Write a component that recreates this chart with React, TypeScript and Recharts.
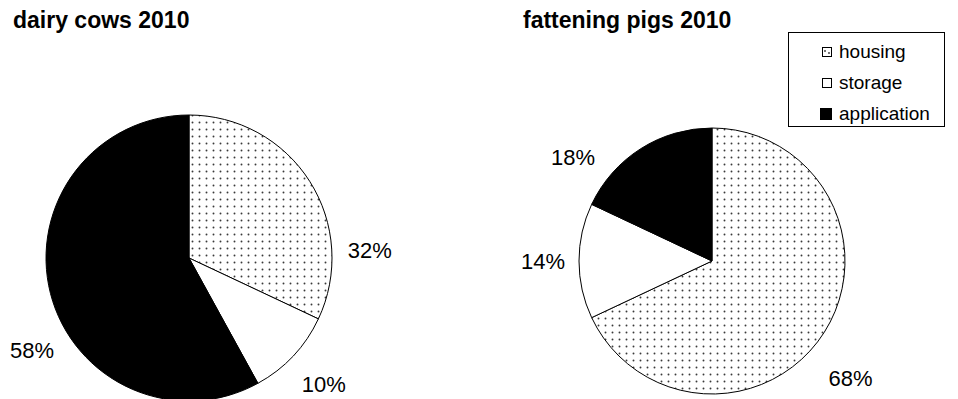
import { PieChart, Pie, Cell, Legend } from "recharts";

const categories = ["housing", "storage", "application"];
const dairyValues = [32, 10, 58];
const pigValues = [68, 14, 18];
const titles = ["dairy cows 2010", "fattening pigs 2010"];

const FONT = '"Liberation Sans", Arial, sans-serif';
const fills = ["url(#dots)", "#ffffff", "#000000"];

// label placement around each pie: angle nudge (deg) and distance past the rim
const dairyLabelPos = [
  { shift: -30, gap: 38 },
  { shift: 0, gap: 42 },
  { shift: 16, gap: 39 },
];
const pigLabelPos = [
  { shift: -8, gap: 49 },
  { shift: 0, gap: 36 },
  { shift: 21, gap: 40 },
];

const RAD = Math.PI / 180;

function makeLabel(pos: { shift: number; gap: number }[]) {
  return (p: any) => {
    const a = (p.midAngle + pos[p.index].shift) * RAD;
    const r = p.outerRadius + pos[p.index].gap;
    const x = p.cx + r * Math.cos(a);
    const y = p.cy - r * Math.sin(a);
    return (
      <text x={x} y={y} textAnchor="middle" dominantBaseline="central" fontFamily={FONT} fontSize={22} fill="#000">
        {p.value}%
      </text>
    );
  };
}

function LegendBox() {
  const marker = (i: number) => {
    const s = i === 2 ? 12 : 10;
    return (
      <svg width={s} height={s} style={{ display: "block" }}>
        <rect x={0.5} y={0.5} width={s - 1} height={s - 1} fill={i === 2 ? "#000" : "#fff"} stroke="#000" strokeWidth={1} />
        {i === 0 && <circle cx={3} cy={4} r={0.9} fill="#333" />}
        {i === 0 && <circle cx={7} cy={6} r={0.9} fill="#333" />}
      </svg>
    );
  };
  return (
    <div style={{ boxSizing: "border-box", width: 157, height: 95, border: "1px solid #000", background: "#fff", paddingTop: 3 }}>
      {categories.map((c, i) => (
        <div key={c} style={{ display: "flex", alignItems: "center", height: 31, fontFamily: FONT, fontSize: 19, color: "#000" }}>
          <div style={{ width: 43, display: "flex", justifyContent: "flex-end", boxSizing: "border-box" }}>{marker(i)}</div>
          <span style={{ marginLeft: 7 }}>{c}</span>
        </div>
      ))}
    </div>
  );
}

export default function App() {
  const dairy = categories.map((name, i) => ({ name, value: dairyValues[i] }));
  const pigs = categories.map((name, i) => ({ name, value: pigValues[i] }));
  return (
    <div style={{ position: "absolute", left: 0, top: 0, width: 958, height: 399, background: "#fff", overflow: "hidden" }}>
      <PieChart width={958} height={399} margin={{ top: 0, right: 0, bottom: 0, left: 0 }}>
        <defs>
          <pattern id="dots" width={7} height={7} patternUnits="userSpaceOnUse">
            <rect width={7} height={7} fill="#fff" />
            <circle cx={3.5} cy={3.5} r={0.95} fill="#3a3a3a" />
          </pattern>
        </defs>
        <Pie
          data={dairy}
          dataKey="value"
          cx={189}
          cy={258}
          outerRadius={143}
          startAngle={90}
          endAngle={-270}
          stroke="#000"
          strokeWidth={1}
          labelLine={false}
          label={makeLabel(dairyLabelPos)}
          isAnimationActive={false}
        >
          {dairy.map((d, i) => (
            <Cell key={d.name} fill={fills[i]} />
          ))}
        </Pie>
        <Pie
          data={pigs}
          dataKey="value"
          cx={712}
          cy={261}
          outerRadius={133}
          startAngle={90}
          endAngle={-270}
          stroke="#000"
          strokeWidth={1}
          labelLine={false}
          label={makeLabel(pigLabelPos)}
          isAnimationActive={false}
        >
          {pigs.map((d, i) => (
            <Cell key={d.name} fill={fills[i]} />
          ))}
        </Pie>
        <Legend content={() => <LegendBox />} wrapperStyle={{ position: "absolute", left: 788, top: 32, width: 157, height: 95 }} />
      </PieChart>
      <svg width={958} height={60} style={{ position: "absolute", left: 0, top: 0, pointerEvents: "none" }}>
        <text x={13} y={28} fontFamily={FONT} fontWeight="bold" fontSize={23} fill="#000">{titles[0]}</text>
        <text x={523} y={28} fontFamily={FONT} fontWeight="bold" fontSize={23} fill="#000">{titles[1]}</text>
      </svg>
    </div>
  );
}
